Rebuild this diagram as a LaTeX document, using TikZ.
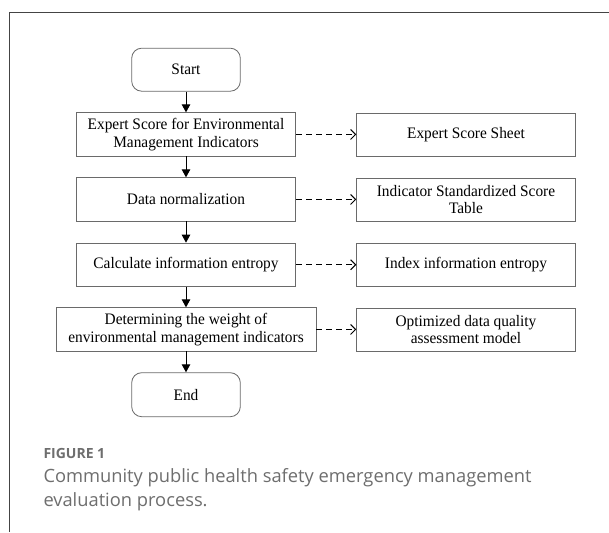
\documentclass[tikz,border=0pt]{standalone}
\usepackage{fontspec}
\setmainfont{Liberation Serif}[FakeStretch=0.96]
\newfontfamily\capfont{Open Sans}
\usetikzlibrary{arrows.meta}
\definecolor{boxgray}{HTML}{6A6A6A}
\definecolor{framegray}{HTML}{444444}
\definecolor{capgray}{HTML}{6E6E6E}
\tikzset{
  boxbase/.style={draw=boxgray, line width=0.8pt, fill=white, align=center, inner sep=0pt,
    font=\fontsize{16}{17.4}\selectfont},
  procbox/.style={boxbase, minimum width=219.3pt, minimum height=43.3pt},
  widebox/.style={boxbase, minimum width=260pt, minimum height=43.3pt},
  outbox/.style={boxbase, minimum width=218.6pt, minimum height=43pt},
  termbox/.style={boxbase, rounded corners=10pt, minimum width=108.6pt, minimum height=43pt},
  flowarrow/.style={draw=black, line width=1pt, -{Triangle[length=8pt,width=8.5pt]}},
  dasharrow/.style={draw=black, line width=1pt, dash pattern=on 6pt off 4pt,
    -{Straight Barb[length=5pt,width=10pt,line width=1pt]}},
  captitle/.style={anchor=base west, inner sep=0pt, text=capgray,
    font=\capfont\bfseries\fontsize{14}{16}\selectfont},
  captext/.style={anchor=base west, inner sep=0pt, text=capgray,
    font=\capfont\fontsize{18.3}{24}\selectfont}
}
\begin{document}
\begin{tikzpicture}[x=1pt, y=-1pt]
\useasboundingbox (0,0) rectangle (609,532);
\fill[white] (0,0) rectangle (609,532);
\draw[framegray, line width=1.3pt] (609,12.7) -- (9.3,12.7) -- (9.3,532);

\node[termbox] (start) at (186,69.7) {Start};
\node[procbox] (b1) at (186,134.4) {Expert Score for Environmental\\Management Indicators};
\node[procbox] (b2) at (186,199.4) {Data normalization};
\node[procbox] (b3) at (186,264.7) {Calculate information entropy};
\node[widebox] (b4) at (186,329.4) {Determining the weight of\\environmental management indicators};
\node[termbox, minimum height=44pt] (end) at (186,394.7) {End};

\node[outbox] (r1) at (466,134.6) {Expert Score Sheet};
\node[outbox] (r2) at (466,199.6) {Indicator Standardized Score\\Table};
\node[outbox] (r3) at (466,264.6) {Index information entropy};
\node[outbox] (r4) at (466,329.5) {Optimized data quality\\assessment model};

\draw[flowarrow] (start) -- (b1);
\draw[flowarrow] (b1) -- (b2);
\draw[flowarrow] (b2) -- (b3);
\draw[flowarrow] (b3) -- (b4);
\draw[flowarrow] (b4) -- (end);

\draw[dasharrow] (b1.east) -- (b1.east -| r1.west);
\draw[dasharrow] (b2.east) -- (b2.east -| r2.west);
\draw[dasharrow] (b3.east) -- (b3.east -| r3.west);
\draw[dasharrow] (b4.east) -- (b4.east -| r4.west);

\node[captitle] (figlabel) at (43.3,458.3) {FIGURE 1};
\node[captext] (cap1) at (43.3,482.7) {Community public health safety emergency management};
\node[captext] (cap2) at (43.3,506.7) {evaluation process.};
\end{tikzpicture}
\end{document}
